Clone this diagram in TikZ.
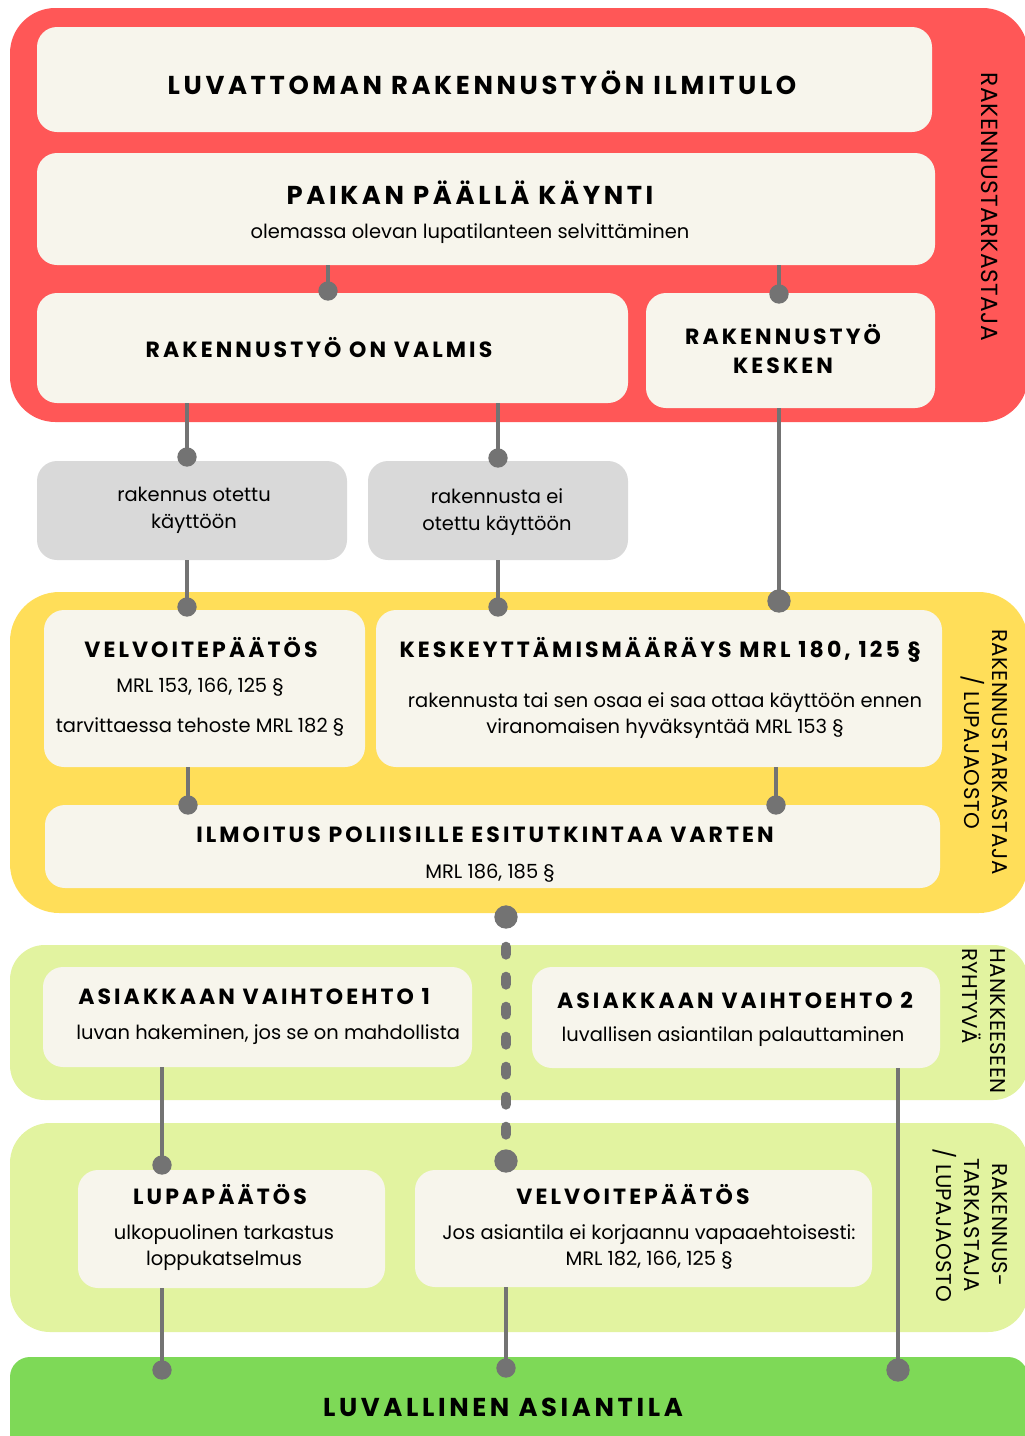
\documentclass[tikz,border=0pt]{standalone}
\usepackage{fontspec}
\setmainfont{Poppins}
\newfontfamily\headfont{Poppins}[LetterSpace=14]
\newfontfamily\sidefont{Poppins}[LetterSpace=2]
\usetikzlibrary{fit}
\definecolor{redpanel}{HTML}{FF5757}
\definecolor{yellowpanel}{HTML}{FFDE59}
\definecolor{limepanel}{HTML}{E2F3A0}
\definecolor{greenpanel}{HTML}{7ED957}
\definecolor{creambox}{HTML}{F7F5EC}
\definecolor{greyfill}{HTML}{D9D9D9}
\definecolor{linegrey}{HTML}{737373}

\begin{document}
\begin{tikzpicture}[x=0.75pt,y=-0.75pt,
  box/.style={fill=creambox,rounded corners=15pt,inner sep=0pt},
  usebox/.style={box,fill=greyfill},
  head/.style={font=\headfont\bfseries\fontsize{16.5}{20}\selectfont,inner sep=0pt},
  bighead/.style={font=\headfont\bfseries\fontsize{19.4}{23}\selectfont,inner sep=0pt},
  txt/.style={font=\fontsize{14.6}{20}\selectfont,inner sep=0pt,align=center},
  side/.style={rotate=-90,font=\sidefont\fontsize{16}{21}\selectfont,inner sep=0pt,align=center},
  conn/.style={draw=linegrey,line width=2.6pt},
  dot/.style={circle,fill=linegrey,minimum size=14.5pt,inner sep=0pt},
  bigdot/.style={dot,minimum size=17.5pt}]
\useasboundingbox (0,0) rectangle (1025,1436);

\fill[redpanel,rounded corners=34pt] (10,8) rectangle (1028,422);
\fill[yellowpanel,rounded corners=37pt] (10,592) rectangle (1028,913);
\fill[limepanel,rounded corners=26pt] (10,945) rectangle (1028,1100);
\fill[limepanel,rounded corners=30pt] (10,1123) rectangle (1028,1332);
\fill[greenpanel,rounded corners=15pt] (10,1357) rectangle (1028,1460);

\coordinate (d1) at (328,291);
\coordinate (d2) at (779,294);
\coordinate (d3) at (187,457);
\coordinate (d4) at (498,458);
\coordinate (d5) at (779,601);
\coordinate (d6) at (187,607);
\coordinate (d7) at (498,607);
\coordinate (d8) at (188,805);
\coordinate (d9) at (776,805);
\coordinate (d10) at (506,917);
\coordinate (d11) at (506,1161);
\coordinate (d12) at (162,1165);
\coordinate (d13) at (162,1370);
\coordinate (d14) at (506,1368);
\coordinate (d15) at (898,1370);

\node[box,fit={(37,27) (932,132)}] (ilmitulo) {};
\node[box,fit={(37,153) (935,265)}] (paikka) {};
\node[box,fit={(37,293) (628,403)}] (valmis) {};
\node[box,fit={(646,293) (935,408)}] (kesken) {};
\node[usebox,fit={(37,461) (347,560)}] (kaytossa) {};
\node[usebox,fit={(368,461) (628,560)}] (eikaytossa) {};
\node[box,fit={(44,610) (365,767)}] (velvoite) {};
\node[box,fit={(376,610) (942,767)}] (keskeytys) {};
\node[box,fit={(45,805) (940,888)}] (ilmoitus) {};
\node[box,fit={(43,967) (472,1067)}] (vaihto1) {};
\node[box,fit={(532,967) (940,1068)}] (vaihto2) {};
\node[box,fit={(78,1170) (385,1288)}] (lupa) {};
\node[box,fit={(415,1170) (872,1287)}] (velvoite2) {};

\draw[conn] (paikka.south -| d1) -- (d1);
\draw[conn] (paikka.south -| d2) -- (d2);
\draw[conn] (valmis.south -| d3) -- (d3);
\draw[conn] (valmis.south -| d4) -- (d4);
\draw[conn] (kesken.south -| d5) -- (d5);
\draw[conn] (kaytossa.south -| d6) -- (d6);
\draw[conn] (eikaytossa.south -| d7) -- (d7);
\draw[conn] (velvoite.south -| d8) -- (d8);
\draw[conn] (keskeytys.south -| d9) -- (d9);
\draw[conn,line width=8pt,line cap=round,dash pattern=on 5.5pt off 17pt] ([yshift=-22.5pt]d10) -- (d11);
\draw[conn] (vaihto1.south -| d12) -- (d12);
\draw[conn] (vaihto2.south -| d15) -- (d15);
\draw[conn] (lupa.south -| d13) -- (d13);
\draw[conn] (velvoite2.south -| d14) -- (d14);

\foreach \d in {d1,d2,d3,d4,d6,d7,d8,d9,d12,d13,d14}
  \node[dot] (\d-dot) at (\d) {};
\foreach \d in {d5,d10,d11,d15}
  \node[bigdot] (\d-dot) at (\d) {};

\node[bighead] (ilmitulo-t) at (482,83) {LUVATTOMAN RAKENNUSTYÖN ILMITULO};
\node[bighead] (paikka-t) at (470,193) {PAIKAN PÄÄLLÄ KÄYNTI};
\node[txt] (paikka-s) at (470,234) {olemassa olevan lupatilanteen selvittäminen};
\node[head] (valmis-t) at (319,348) {RAKENNUSTYÖ ON VALMIS};
\node[head,align=center] (kesken-t) at (783,349) {RAKENNUSTYÖ\\[2pt]KESKEN};
\node[txt,font=\fontsize{14.6}{20.5}\selectfont] (kaytossa-t) at (194,510) {rakennus otettu\\käyttöön};
\node[txt,font=\fontsize{14.6}{20.5}\selectfont] (eikaytossa-t) at (497,512) {rakennusta ei\\otettu käyttöön};
\node[head] (velvoite-t) at (201,648) {VELVOITEPÄÄTÖS};
\node[txt,font=\fontsize{14.6}{30}\selectfont] (velvoite-s) at (200,707) {MRL 153, 166, 125 §\\tarvittaessa tehoste MRL 182 §};
\node[head] (keskeytys-t) at (660,650) {KESKEYTTÄMISMÄÄRÄYS MRL 180, 125 §};
\node[txt,font=\fontsize{14.6}{19.5}\selectfont] (keskeytys-s) at (665,716) {rakennusta tai sen osaa ei saa ottaa käyttöön ennen\\viranomaisen hyväksyntää MRL 153 §};
\node[head] (ilmoitus-t) at (485,835) {ILMOITUS POLIISILLE ESITUTKINTAA VARTEN};
\node[txt] (ilmoitus-s) at (490,873) {MRL 186, 185 §};
\node[head,anchor=west] (vaihto1-t) at (78,997) {ASIAKKAAN VAIHTOEHTO 1};
\node[txt,anchor=west] (vaihto1-s) at (76,1035) {luvan hakeminen, jos se on mahdollista};
\node[head] (vaihto2-t) at (735,1000) {ASIAKKAAN VAIHTOEHTO 2};
\node[txt] (vaihto2-s) at (733,1037) {luvallisen asiantilan palauttaminen};
\node[head] (lupa-t) at (220,1195) {LUPAPÄÄTÖS};
\node[txt,font=\fontsize{14.6}{19.5}\selectfont] (lupa-s) at (224,1248) {ulkopuolinen tarkastus\\loppukatselmus};
\node[head] (velvoite2-t) at (633,1195) {VELVOITEPÄÄTÖS};
\node[txt,font=\fontsize{14.6}{19.5}\selectfont] (velvoite2-s) at (649,1247) {Jos asiantila ei korjaannu vapaaehtoisesti:\\MRL 182, 166, 125 §};
\node[bighead] (luvallinen-t) at (503,1407) {LUVALLINEN ASIANTILA};

\node[side,font=\sidefont\fontsize{17.5}{21}\selectfont] (red-side) at (990,207) {RAKENNUSTARKASTAJA};
\node[side] (yellow-side) at (984,752) {RAKENNUSTARKASTAJA\\/ LUPAJAOSTO};
\node[side,align=left] (lime1-side) at (984,1021) {HANKKEESEEN\\RYHTYVÄ};
\node[side] (lime2-side) at (970,1225) {RAKENNUS-\\TARKASTAJA\\/ LUPAJAOSTO};
\end{tikzpicture}
\end{document}
